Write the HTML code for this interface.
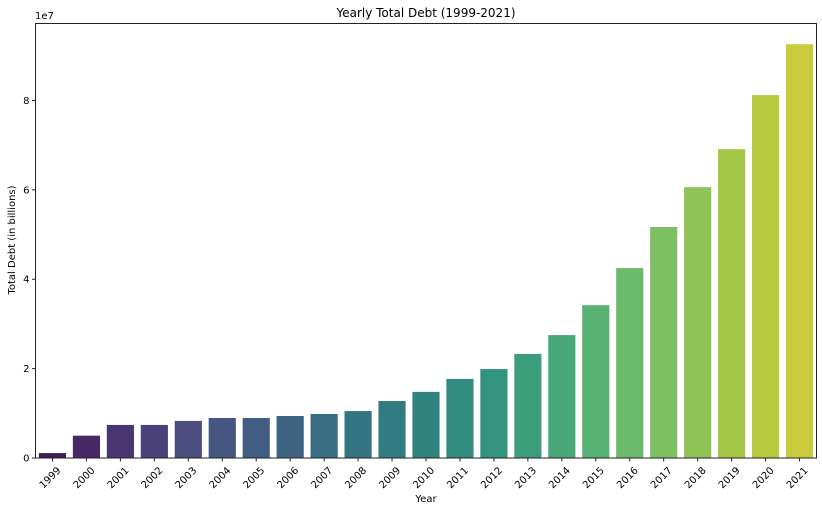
<!DOCTYPE html>
<html><head><meta charset="utf-8"><style>
body{margin:0;background:#fff;}
svg text{font-family:"DejaVu Sans","Liberation Sans",sans-serif;fill:#000;}
</style></head><body>
<svg id="chart" width="822" height="511" viewBox="0 0 822 511" xmlns="http://www.w3.org/2000/svg">
<text x="426" y="17" font-size="12" text-anchor="middle">Yearly Total Debt (1999-2021)</text>
<text x="35" y="19" font-size="10">1e7</text>
<text transform="translate(15,240) rotate(-90)" font-size="10" text-anchor="middle">Total Debt (in billions)</text>
<text x="426" y="502" font-size="10" text-anchor="middle">Year</text>
<g id="bars"></g><g id="xticks"></g><g id="yticks"></g>
<rect x="35.5" y="23.5" width="781" height="434.5" fill="none" stroke="#222" stroke-width="1"/>
</svg>
<script>
const categories=["1999","2000","2001","2002","2003","2004","2005","2006","2007","2008","2009","2010","2011","2012","2013","2014","2015","2016","2017","2018","2019","2020","2021"];
const debtValues=[1.1e6,5.0e6,7.4e6,7.4e6,8.3e6,8.95e6,8.95e6,9.4e6,9.85e6,1.05e7,1.275e7,1.48e7,1.77e7,1.99e7,2.33e7,2.75e7,3.42e7,4.25e7,5.17e7,6.06e7,6.91e7,8.12e7,9.26e7];
const yTickValues=[0,2e7,4e7,6e7,8e7];
const yTickLabels=["0","2","4","6","8"];

const L=35.5,R=816.5,T=23.5,B=458;
const yMax=Math.max(...debtValues)*1.05;
const yScale=v=>B-(v/yMax)*(B-T);
const band=(R-L)/categories.length;
const xCenter=i=>L+band*(i+0.5);
const NS="http://www.w3.org/2000/svg";
const stops=[[68,1,84],[72,36,117],[65,68,135],[53,95,141],[42,120,142],[33,145,140],[34,168,132],[68,191,112],[122,209,81],[189,223,38],[253,231,37]];
function viridis(t){const p=t*10,i=Math.min(9,Math.floor(p)),f=p-i;return stops[i].map((c,k)=>c+(stops[i+1][k]-c)*f);}
function desat(rgb,s){let [r,g,b]=rgb.map(v=>v/255);const mx=Math.max(r,g,b),mn=Math.min(r,g,b),l=(mx+mn)/2;
 const m=(r+g+b)/3;const gray=l;return [r,g,b].map(v=>Math.round((gray+(v-gray)*s)*255));}
const bars=document.getElementById('bars'),xt=document.getElementById('xticks'),yt=document.getElementById('yticks');
const n=categories.length;
debtValues.forEach((v,i)=>{
 const c=desat(viridis((i+1)/(n+1)),0.75);
 const r=document.createElementNS(NS,'rect');
 
 
 const w=band*0.8;r.setAttribute('x',xCenter(i)-w/2);r.setAttribute('width',w);
 r.setAttribute('y',yScale(v));r.setAttribute('height',B-yScale(v));
 r.setAttribute('fill','rgb('+c.join(',')+')');bars.appendChild(r);
 const tk=document.createElementNS(NS,'line');
 
 
 tk.setAttribute('x1',xCenter(i));tk.setAttribute('x2',xCenter(i));tk.setAttribute('y1',B);tk.setAttribute('y2',B+3.5);tk.setAttribute('stroke','#222');xt.appendChild(tk);
 const tx=document.createElementNS(NS,'text');
 
 
 tx.setAttribute('font-size','10');tx.setAttribute('text-anchor','end');
 tx.setAttribute('transform','translate('+(xCenter(i)+4)+','+(B+8)+') rotate(-45)');
 tx.setAttribute('dy','0.7em');tx.textContent=categories[i];xt.appendChild(tx);
});
yTickValues.forEach((v,i)=>{
 const y=yScale(v);
 const tk=document.createElementNS(NS,'line');
 
 
 tk.setAttribute('x1',L-3.5);tk.setAttribute('x2',L);tk.setAttribute('y1',y);tk.setAttribute('y2',y);tk.setAttribute('stroke','#222');yt.appendChild(tk);
 const tx=document.createElementNS(NS,'text');
 
 
 tx.setAttribute('font-size','10');tx.setAttribute('text-anchor','end');
 tx.setAttribute('x',L-6);tx.setAttribute('y',y+3.5);tx.textContent=yTickLabels[i];yt.appendChild(tx);
});
</script>
</body></html>
